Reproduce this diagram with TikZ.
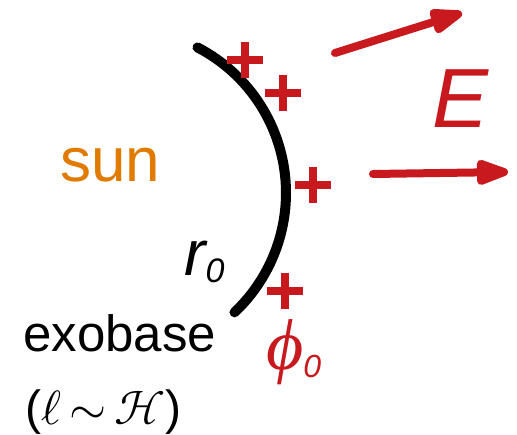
\documentclass[tikz,border=0pt]{standalone}
\usepackage{fontspec}
\usepackage{unicode-math}
\setmainfont{Liberation Sans}
\setmathfont{Latin Modern Math}
\newfontfamily\greekfont{Liberation Serif}
\usetikzlibrary{arrows.meta}
\definecolor{chargered}{RGB}{200,25,30}
\definecolor{sunorange}{RGB}{224,123,0}

\begin{document}
\begin{tikzpicture}[x=1pt,y=-1pt,
  labeltext/.style={inner sep=0pt,anchor=base west},
  charge/.style={draw=chargered,line width=8pt},
  field/.style={draw=chargered,line width=8pt,line cap=round,-{Triangle[length=40pt,width=26pt,round]}},
  exoline/.style={draw=black,line width=10pt,line cap=round}]
\useasboundingbox (0,0) rectangle (517,435);
% exobase arc
\coordinate (c0) at (122,193);
\draw[exoline] ([shift={(-62.6:164)}]c0) arc[start angle=-62.6,end angle=46.7,radius=164];
% charges
\foreach \px/\py in {245/60,283/93,313/185,285/291}
  \draw[charge] (\px-18,\py) -- (\px+18,\py) (\px,\py-18) -- (\px,\py+18);
% field arrows
\coordinate (f1a) at (335,53);
\coordinate (f1b) at (462,13);
\coordinate (f2a) at (373,174);
\coordinate (f2b) at (508,172);
\draw[field] (f1a) -- (f1b);
\draw[field] (f2a) -- (f2b);
% labels
\node[labeltext,text=chargered,font=\fontsize{84}{84}\selectfont\itshape] (efield) at (432,128) {E};
\node[labeltext,text=sunorange,font=\fontsize{62}{62}\selectfont] (sun) at (60,182) {sun};
\node[labeltext,font=\fontsize{64}{64}\selectfont\itshape] (r0) at (184,276) {r\raisebox{-7pt}{\fontsize{34}{34}\selectfont 0}};
\node[labeltext,font=\fontsize{51}{51}\selectfont] (exo) at (23,352) {exobase};
\node[labeltext,text=chargered,font=\fontsize{72}{72}\selectfont] (phi0) at (266,370) {{\greekfont\itshape ϕ}\raisebox{-8pt}{\fontsize{32}{32}\selectfont\itshape 0}};
\node[labeltext,font=\fontsize{48}{48}\selectfont] (scale) at (25,425) {($\ell\,{\sim}\,\mathcal{H}$)};
\end{tikzpicture}
\end{document}
